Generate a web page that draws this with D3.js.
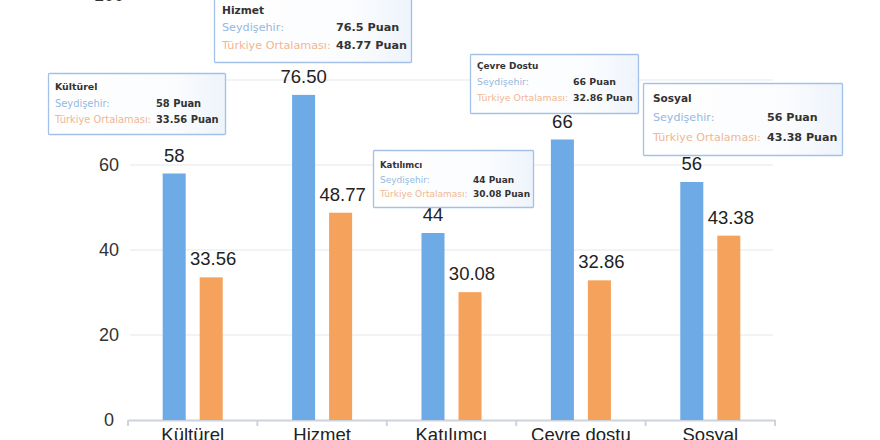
<!DOCTYPE html>
<html><head><meta charset="utf-8">
<script src="https://cdn.jsdelivr.net/npm/d3@7"></script>
<style>html,body{margin:0;padding:0;background:#fff;overflow:hidden}</style>
</head><body><svg id="c" width="880" height="440"></svg>
<script>
const categories = ["Kültürel", "Hizmet", "Katılımcı", "Çevre dostu", "Sosyal"];
const tipTitles = ["Kültürel", "Hizmet", "Katılımcı", "Çevre Dostu", "Sosyal"];
const seydisehir = [58, 76.5, 44, 66, 56];
const turkiye = [33.56, 48.77, 30.08, 32.86, 43.38];
const seydisehirLabels = ["58", "76.50", "44", "66", "56"];
const turkiyeLabels = ["33.56", "48.77", "30.08", "32.86", "43.38"];
const yTicks = [0, 20, 40, 60, 80, 100];
const seriesNames = ["Seydişehir:", "Türkiye Ortalaması:"];
const unit = "Puan";

// layout (not data): tooltip boxes
const tipLayout = [
  {x: 48, y: 73, w: 177, h: 61, fs: 9.9, pad: 7, t: 14, gap: 16.5, vo: 101},
  {x: 214, y: -7, w: 197, h: 69, fs: 11.2, pad: 8, t: 17, gap: 17.5, vo: 114},
  {x: 373, y: 150, w: 160, h: 57, fs: 9.0, pad: 7, t: 15, gap: 14.5, vo: 93},
  {x: 470, y: 54, w: 168, h: 59, fs: 9.4, pad: 7, t: 12, gap: 16, vo: 96},
  {x: 643, y: 83, w: 199, h: 72, fs: 11.1, pad: 10, t: 15, gap: 19.5, vo: 114}
];

const svg = d3.select("#c");
const defs = svg.append("defs");
const grad = defs.append("linearGradient").attr("id", "tipg").attr("x1", 0).attr("x2", 1).attr("y1", 0).attr("y2", 0);
grad.append("stop").attr("offset", "0%").attr("stop-color", "#ffffff");
grad.append("stop").attr("offset", "70%").attr("stop-color", "#fbfcfe");
grad.append("stop").attr("offset", "100%").attr("stop-color", "#eef4fb");

const x0 = d3.scaleBand().domain(categories).range([128, 775]);
const y = d3.scaleLinear().domain([0, 100]).range([420, -5]);
const x1 = d3.scaleBand().domain([0, 1]).range([0, x0.bandwidth()]).paddingInner(0.378).paddingOuter(0.937);

const blue = "#6eaae6", orange = "#f5a25d";
const sans = "Liberation Sans, Arial, sans-serif";
const tipFont = "DejaVu Sans, Verdana, sans-serif";

// gridlines
svg.append("g").selectAll("line").data(yTicks.filter(d => d > 0)).join("line")
  .attr("x1", 130).attr("x2", 773).attr("y1", d => y(d)).attr("y2", d => y(d))
  .attr("stroke", "#e4e7eb").attr("stroke-width", 1.2);

// y tick labels
svg.append("g").selectAll("text").data(yTicks).join("text")
  .attr("x", 109).attr("y", d => y(d)).attr("dy", "0.35em")
  .attr("text-anchor", "middle").attr("font-family", sans)
  .attr("font-size", 18).attr("fill", "#333").text(d => d);

// x axis
const xAxis = d3.axisBottom(x0).tickSize(0).tickFormat("");
const ax = svg.append("g").attr("transform", `translate(0,${y(0)})`).call(xAxis);
ax.select(".domain").attr("stroke", "#ccd3dd").attr("stroke-width", 2);
const edges = categories.map(c => x0(c)).concat([x0.range()[1]]);
svg.append("g").selectAll("line").data(edges).join("line")
  .attr("x1", d => d).attr("x2", d => d).attr("y1", y(0)).attr("y2", y(0) + 6)
  .attr("stroke", "#ccd3dd").attr("stroke-width", 2);

svg.append("g").selectAll("text").data(categories).join("text")
  .attr("x", d => x0(d) + x0.bandwidth() / 2).attr("y", 441)
  .attr("text-anchor", "middle").attr("font-family", sans)
  .attr("font-size", 18.5).attr("fill", "#222").text(d => d);

// bars
const groups = svg.append("g").selectAll("g").data(categories).join("g")
  .attr("transform", d => `translate(${x0(d)},0)`);
const series = [
  {vals: seydisehir, labels: seydisehirLabels, color: blue},
  {vals: turkiye, labels: turkiyeLabels, color: orange}
];
series.forEach((s, si) => {
  groups.append("rect")
    .attr("x", x1(si)).attr("width", x1.bandwidth())
    .attr("y", (d, i) => y(s.vals[i])).attr("height", (d, i) => y(0) - y(s.vals[i]))
    .attr("fill", s.color);
  groups.append("text")
    .attr("x", x1(si) + x1.bandwidth() / 2 + (si === 1 ? 2 : 0)).attr("y", (d, i) => y(s.vals[i]) - 12)
    .attr("text-anchor", "middle").attr("font-family", sans)
    .attr("font-size", 18.5).attr("fill", "#222").text((d, i) => s.labels[i]);
});

// tooltips
const fmt = d3.format("");
const tips = svg.append("g").selectAll("g").data(categories).join("g")
  .attr("transform", (d, i) => `translate(${tipLayout[i].x},${tipLayout[i].y})`);
tips.append("rect")
  .attr("x", 0.5).attr("y", 0.5)
  .attr("width", (d, i) => tipLayout[i].w).attr("height", (d, i) => tipLayout[i].h)
  .attr("fill", "url(#tipg)")
  .attr("stroke", "#a3c1e8").attr("stroke-width", 1.3).attr("rx", 1);
tips.append("text")
  .attr("x", (d, i) => tipLayout[i].pad).attr("y", (d, i) => tipLayout[i].t).attr("dy", "0.35em")
  .attr("font-family", tipFont).attr("font-weight", "bold")
  .attr("font-size", (d, i) => tipLayout[i].fs * 0.95).attr("fill", "#333").text((d, i) => tipTitles[i]);
[[seydisehir, "#94b8e0"], [turkiye, "#f0b792"]].forEach(([vals, col], r) => {
  tips.append("text")
    .attr("x", (d, i) => tipLayout[i].pad)
    .attr("y", (d, i) => tipLayout[i].t + tipLayout[i].gap * (r + 1)).attr("dy", "0.35em")
    .attr("font-family", tipFont)
    .attr("font-size", (d, i) => tipLayout[i].fs).attr("fill", col).text(seriesNames[r]);
  tips.append("text")
    .attr("x", (d, i) => tipLayout[i].pad + tipLayout[i].vo)
    .attr("y", (d, i) => tipLayout[i].t + tipLayout[i].gap * (r + 1)).attr("dy", "0.35em")
    .attr("font-family", tipFont).attr("font-weight", "bold")
    .attr("font-size", (d, i) => tipLayout[i].fs).attr("fill", "#333")
    .text((d, i) => fmt(vals[i]) + " " + unit);
});
</script></body></html>
